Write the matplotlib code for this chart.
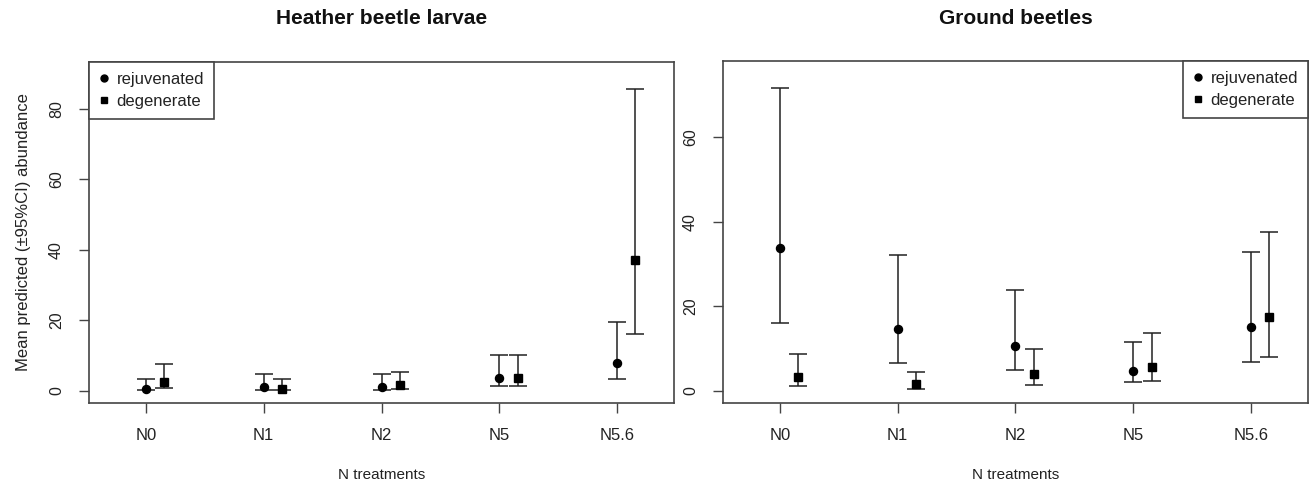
import matplotlib
matplotlib.use("Agg")
import matplotlib.pyplot as plt
from matplotlib.lines import Line2D
import numpy as np

plt.rcParams['font.family'] = ['Liberation Sans', 'DejaVu Sans']

treatments = ["N0", "N1", "N2", "N5", "N5.6"]

# Heather beetle larvae
hb_rej = [0.47, 1.23, 1.13, 3.6, 7.9]
hb_rej_lo = [0.3, 0.3, 0.3, 1.5, 3.3]
hb_rej_hi = [3.3, 4.9, 4.9, 10.1, 19.6]
hb_deg = [2.65, 0.57, 1.8, 3.6, 37.2]
hb_deg_lo = [0.95, 0.2, 0.57, 1.5, 16.2]
hb_deg_hi = [7.66, 3.3, 5.5, 10.1, 85.6]

# Ground beetles
gb_rej = [33.9, 14.7, 10.75, 4.66, 15.2]
gb_rej_lo = [16.0, 6.6, 4.9, 2.05, 6.9]
gb_rej_hi = [71.7, 32.1, 23.95, 11.6, 32.9]
gb_deg = [3.3, 1.6, 4.1, 5.7, 17.4]
gb_deg_lo = [1.26, 0.47, 1.5, 2.4, 8.0]
gb_deg_hi = [8.7, 4.6, 10.0, 13.6, 37.7]

W, H = 1309, 486
fig = plt.figure(figsize=(W / 100, H / 100), dpi=100)

def px_axes(x0, y0, x1, y1):
    return fig.add_axes([x0 / W, 1 - y1 / H, (x1 - x0) / W, (y1 - y0) / H])

ax1 = px_axes(89, 62, 674, 403)
ax2 = px_axes(723, 61, 1308, 403)

line_c = "#222222"
spine_c = "#444444"

def draw(ax, rej, rlo, rhi, deg, dlo, dhi, ylim, yticks, legend_loc):
    x = np.arange(1, len(treatments) + 1)
    off = 0.155
    rej = np.array(rej); deg = np.array(deg)
    ax.errorbar(x, rej, yerr=[rej - np.array(rlo), np.array(rhi) - rej],
                fmt='o', color='black', ecolor=line_c, elinewidth=1.1,
                capsize=6.2, capthick=1.1, markersize=5.8)
    ax.errorbar(x + off, deg, yerr=[deg - np.array(dlo), np.array(dhi) - deg],
                fmt='s', color='black', ecolor=line_c, elinewidth=1.1,
                capsize=6.2, capthick=1.1, markersize=5.8)
    ax.set_xlim(0.516, 5.484)
    ax.set_ylim(*ylim)
    ax.set_xticks(x)
    ax.set_xticklabels(treatments, fontsize=12, color="#222222")
    ax.set_yticks(yticks)
    ax.set_yticklabels([str(t) for t in yticks], rotation=90, va='center',
                       fontsize=11.5, color="#222222")
    ax.tick_params(axis='x', length=7, width=1, color=spine_c, pad=11)
    ax.tick_params(axis='y', length=7, width=1, color=spine_c, pad=11)
    for s in ax.spines.values():
        s.set_color(spine_c)
        s.set_linewidth(1.2)
    ax.set_xlabel("N treatments", fontsize=11, labelpad=18, color="#222222")
    handles = [Line2D([], [], marker='o', linestyle='none', color='black', markersize=5),
               Line2D([], [], marker='s', linestyle='none', color='black', markersize=5)]
    if legend_loc == 'left':
        loc, anchor = 'upper left', (0, 1)
    else:
        loc, anchor = 'upper right', (1, 1)
    leg = ax.legend(handles, ["rejuvenated", "degenerate"], loc=loc,
                    bbox_to_anchor=anchor, borderaxespad=0, fontsize=12,
                    frameon=True, fancybox=False, framealpha=1,
                    handlelength=0.6, handletextpad=0.45, labelspacing=0.42,
                    borderpad=0.6)
    leg.get_frame().set_edgecolor(spine_c)
    leg.get_frame().set_linewidth(1.2)
    for t in leg.get_texts():
        t.set_color("#222222")

draw(ax1, hb_rej, hb_rej_lo, hb_rej_hi, hb_deg, hb_deg_lo, hb_deg_hi,
     (-3.4, 93.2), [0, 20, 40, 60, 80], 'left')
draw(ax2, gb_rej, gb_rej_lo, gb_rej_hi, gb_deg, gb_deg_lo, gb_deg_hi,
     (-2.84, 78.05), [0, 20, 40, 60], 'right')

ax1.set_ylabel("Mean predicted (\u00b195%CI) abundance", fontsize=12,
               color="#222222", labelpad=13)

fig.text((89 + 674) / 2 / W, 1 - 19 / H, "Heather beetle larvae",
         ha='center', va='center', fontsize=15, fontweight='bold', color='#111111')
fig.text((723 + 1308) / 2 / W, 1 - 19 / H, "Ground beetles",
         ha='center', va='center', fontsize=15, fontweight='bold', color='#111111')

fig.savefig("out.png", dpi=100, facecolor='white')
